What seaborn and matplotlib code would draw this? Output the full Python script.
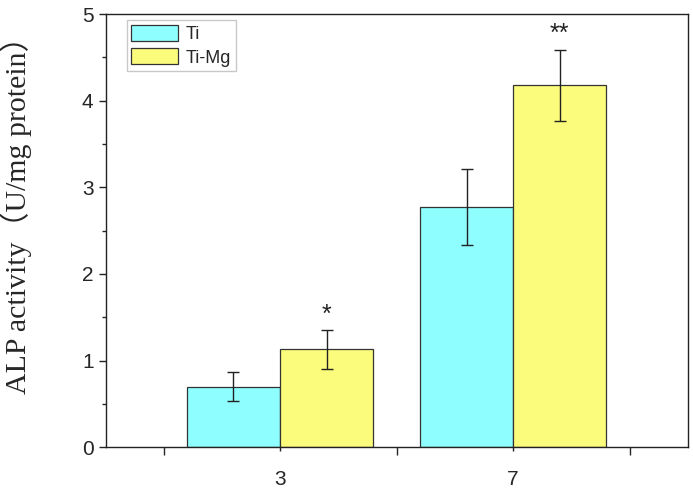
import pandas as pd
import matplotlib
matplotlib.use('Agg')
import matplotlib.pyplot as plt
import seaborn as sns

# valores
dias = ["3", "7"]
grupos = ["Ti", "Ti-Mg"]
media_ti = [0.70, 2.77]
media_timg = [1.13, 4.18]
err_ti = [0.165, 0.44]
err_timg = [0.225, 0.41]
signif_timg = ["*", "**"]

colores = {"Ti": "#8efefe", "Ti-Mg": "#fcfc7c"}

df = pd.DataFrame({
    "dia": dias * 2,
    "grupo": ["Ti"] * 2 + ["Ti-Mg"] * 2,
    "valor": media_ti + media_timg,
})

sns.set_style("ticks")
plt.rcParams['font.family'] = ['Liberation Sans', 'DejaVu Sans']

fig = plt.figure(figsize=(6.93, 4.9), dpi=100)
ax = fig.add_axes([0.153, 0.0871, 0.840, 0.8843])

sns.barplot(data=df, x="dia", y="valor", hue="grupo", order=dias, hue_order=grupos,
            palette=colores, saturation=1, width=0.8, errorbar=None,
            edgecolor="#333333", linewidth=0.9, ax=ax)

# barras de error y asteriscos a partir de las barras dibujadas
errores = {"Ti": err_ti, "Ti-Mg": err_timg}
for cont, g in zip(ax.containers, grupos):
    for i, barra in enumerate(cont):
        xc = barra.get_x() + barra.get_width() / 2
        h = barra.get_height()
        e = errores[g][i]
        ax.errorbar(xc, h, yerr=e, fmt="none", ecolor="#222222", elinewidth=1.0,
                    capsize=4, capthick=1.0)
        if g == "Ti-Mg":
            ax.text(xc, h + e + 0.04, signif_timg[i], ha="center", va="bottom",
                    fontsize=18, color="#222222")

ax.set_xlim(-0.747, 1.751)
ax.set_ylim(0, 5)
ax.set_yticks([0, 1, 2, 3, 4, 5])
ax.set_yticks([0.5, 1.5, 2.5, 3.5, 4.5], minor=True)
ax.set_xticks([0, 1])
ax.set_xticklabels(dias)
ax.set_xticks([-0.5, 0.5, 1.5], minor=True)
ax.tick_params(axis="both", which="major", labelsize=15, color="#222222", width=1.0)
ax.tick_params(axis="y", which="major", length=5, pad=4)
ax.tick_params(axis="y", which="minor", length=3, width=1.0)
ax.tick_params(axis="x", which="major", length=3, pad=13)
ax.tick_params(axis="x", which="minor", length=6, width=1.0)
for lado in ax.spines.values():
    lado.set_visible(True)
    lado.set_linewidth(1.0)
    lado.set_color("#222222")

ax.set_xlabel("")
ax.set_ylabel("ALP activity（U/mg protein）", fontsize=21.5,
              family=["Liberation Serif", "Noto Sans CJK SC"])
ax.yaxis.set_label_coords(-0.127, 0.553)

ax.legend(loc="upper left", bbox_to_anchor=(0.036, 0.986), borderaxespad=0,
          fontsize=13, frameon=True, fancybox=False, edgecolor="#bbbbbb",
          handlelength=2.6, handleheight=1.0, borderpad=0.25, labelspacing=0.3,
          handletextpad=0.4)

plt.savefig("out.png", dpi=100)
plt.close()
